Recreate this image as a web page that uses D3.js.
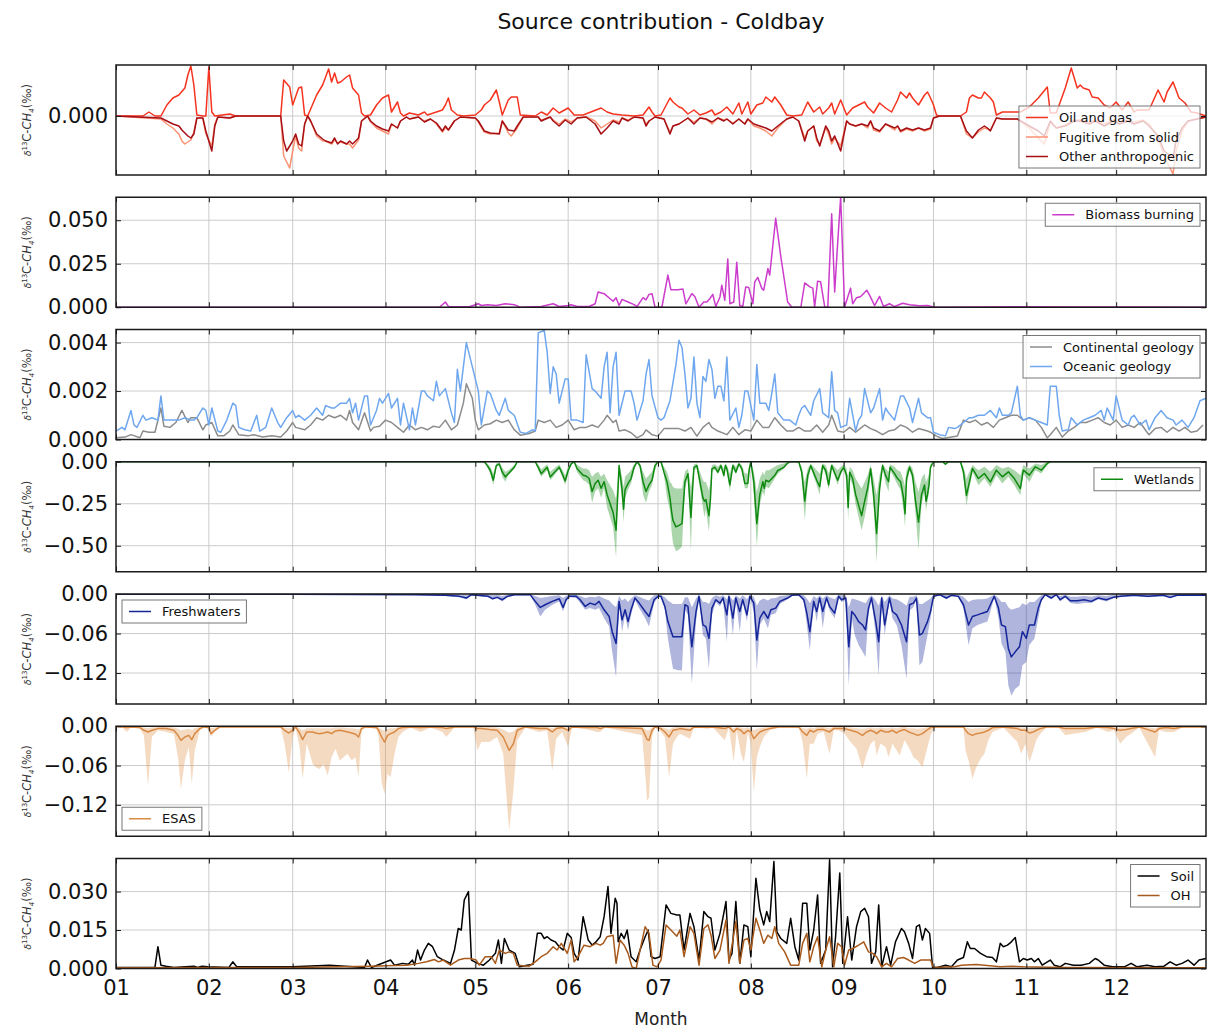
<!DOCTYPE html>
<html><head><meta charset="utf-8">
<script src="https://cdn.jsdelivr.net/npm/d3@7"></script>
<style>body{margin:0;background:#fff} svg{font-family:"DejaVu Sans",sans-serif}</style>
</head><body>
<svg id="chart" width="1208" height="1032"></svg>
<script>
// ---------------- DATA (day of year, value in per mil) ----------------
const monthLabels = ["01","02","03","04","05","06","07","08","09","10","11","12"];
const chartTitle = "Source contribution - Coldbay";

const oilGas = [[0,0],[9,0],[11,0.00008],[13,0],[15,0],[17,0.00022],[19,0.00036],[21,0.00042],[23,0.00056],[24,0.00082],[25,0.001],[26,0.00062],[27,0.00002],[29,0],[30,0],[31,0.00098],[32,0.00008],[33,0],[38,0.00004],[40,0],[55,0],[56,0.00072],[58,0.00058],[59,0.00022],[61,0.00056],[62,0.00058],[63,0.00002],[64,0],[67,0.00042],[69,0.00062],[70,0.00078],[71,0.00094],[72,0.00068],[73,0.00086],[74,0.00066],[75,0.00068],[77,0.00078],[78,0.00082],[79,0.00056],[81,0.00042],[82,0.00006],[83,0],[85,0.00002],[87,0.00022],[89,0.00036],[91,0.00042],[92,0.00008],[94,0.00028],[95,0.00006],[96,0],[98,0.00006],[101,0.00002],[103,0.00008],[104,0.00002],[106,0.00006],[109,0.00012],[110,0.00022],[111,0.00036],[112,0.00012],[114,0.00002],[116,0],[120,0.00002],[122,0.00012],[123,0.00022],[125,0.00032],[126,0.00042],[127,0.00052],[128,0.00028],[129,0.00002],[131,0.00032],[132,0.00038],[134,0.00038],[135,0.00002],[140,0],[142,0.00008],[144,0.00002],[146,0.00016],[148,0.00006],[151,0.00016],[153,0.00002],[156,0.00002],[162,0.00016],[164,0.00008],[166,0.00004],[169,0.00002],[173,0],[176,0.00002],[178,0.00018],[179,0.00008],[180,0],[182,0.00002],[185,0.00036],[186,0.00028],[188,0.00018],[189,0.00016],[191,0.00004],[193,0.00012],[195,0.00002],[197,0.00006],[199,0.00012],[200,0.00002],[202,0.00008],[204,0.00018],[206,0.00004],[208,0.00026],[209,0.00004],[211,0.00028],[212,0.00004],[214,0.00022],[216,0.00026],[217,0.00038],[219,0.00028],[220,0.00038],[222,0.00022],[224,0.00002],[226,0],[229,0.00002],[231,0.00028],[233,0.00008],[235,0.00018],[236,0.00004],[238,0.00016],[239,0.00026],[240,0.00004],[242,0.00032],[244,0.00002],[246,0.00016],[248,0.00022],[250,0.00028],[251,0.00018],[253,0.00006],[254,0.00016],[255,0.00026],[257,0.00016],[259,0.00008],[261,0.00032],[262,0.00048],[264,0.00036],[265,0.00046],[266,0.00036],[268,0.00022],[270,0.00042],[271,0.00048],[272,0.00036],[273,0.00022],[274,0.00002],[275,0],[282,0],[284,0.00008],[285,0.00036],[286,0.00042],[288,0.00036],[289,0.00036],[290,0.00048],[292,0.00036],[293,0.00028],[294,0.00002],[296,0.00008],[300,0.00008],[302,0.00008],[305,0.00018],[308,0.00036],[311,0.00058],[312,0.00006],[314,0.00006],[317,0.00056],[319,0.00096],[321,0.00056],[322,0.00062],[323,0.00056],[325,0.00052],[326,0.00038],[328,0.00036],[330,0.00022],[332,0.00016],[334,0.00028],[336,0.00012],[338,0.00028],[340,0.00008],[341,0.00012],[343,0.00012],[345,0.00012],[348,0.00052],[350,0.00028],[351,0.00048],[353,0.00068],[355,0.00036],[357,0.00026],[359,0.00008],[361,0.00006],[363,0.00002],[364,0]];

const fugitiveSolid = [[0,0],[15,-0.00006],[17,-0.00016],[19,-0.00024],[21,-0.00036],[22,-0.0005],[23,-0.00056],[25,-0.00048],[26,-0.00032],[27,-0.00004],[29,-0.00004],[30,-0.00036],[32,-0.0006],[33,-0.00016],[34,-0.00002],[38,-0.00004],[40,0],[55,0],[56,-0.0008],[58,-0.00104],[59,-0.0007],[60,-0.0004],[61,-0.00064],[62,-0.0007],[63,-0.00016],[64,0],[65,-0.0001],[67,-0.0004],[69,-0.0005],[70,-0.0005],[72,-0.00056],[73,-0.00048],[74,-0.00054],[75,-0.00052],[77,-0.00056],[78,-0.00056],[79,-0.00064],[81,-0.00048],[82,-0.0001],[84,0],[85,-0.00012],[87,-0.00024],[89,-0.0003],[91,-0.00036],[92,-0.00016],[94,-0.00024],[95,-0.0001],[97,-0.00002],[98,-0.00006],[101,-0.00002],[103,-0.0001],[105,-0.00006],[107,-0.00016],[109,-0.00032],[110,-0.00024],[111,-0.00028],[113,-0.0001],[115,-0.00002],[120,-0.00004],[121,-0.00012],[123,-0.00032],[125,-0.00036],[128,-0.00034],[129,-0.0001],[131,-0.00034],[132,-0.0004],[134,-0.00024],[136,-0.00002],[141,-0.00002],[142,-0.00008],[145,-0.00002],[146,-0.00008],[148,-0.00016],[150,-0.00006],[152,-0.00012],[154,-0.00004],[157,-0.00002],[160,-0.0001],[162,-0.00024],[164,-0.00016],[166,-0.00008],[168,-0.00012],[169,-0.00004],[171,-0.00008],[173,-0.00002],[176,-0.00004],[177,-0.00016],[178,-0.0001],[180,-0.00002],[183,-0.00006],[185,-0.00032],[186,-0.0002],[188,-0.00016],[189,-0.00012],[191,-0.00004],[193,-0.00012],[195,-0.00004],[197,-0.00006],[199,-0.00016],[201,-0.00004],[203,-0.00008],[204,-0.00006],[206,-0.00014],[208,-0.00006],[210,-0.00016],[211,-0.00006],[213,-0.0002],[215,-0.00024],[217,-0.0003],[219,-0.0004],[221,-0.00024],[224,-0.00006],[226,-0.00002],[228,-0.0001],[230,-0.00044],[231,-0.0003],[233,-0.0002],[234,-0.0005],[235,-0.00056],[237,-0.00024],[238,-0.00036],[239,-0.00056],[240,-0.00044],[242,-0.0006],[244,-0.0001],[245,-0.00016],[247,-0.0002],[249,-0.00016],[251,-0.00024],[252,-0.0001],[253,-0.00028],[255,-0.00032],[257,-0.00016],[260,-0.00028],[261,-0.0002],[262,-0.00032],[264,-0.00026],[266,-0.0003],[268,-0.00024],[270,-0.0003],[272,-0.00026],[273,-0.00004],[275,0],[282,0],[284,-0.00036],[286,-0.00044],[288,-0.00032],[290,-0.00024],[291,-0.00026],[292,-0.00028],[294,-0.00004],[296,-0.00006],[301,-0.00006],[305,-0.00024],[308,-0.00044],[310,-0.00056],[312,-0.00012],[314,-0.00024],[317,-0.00018],[320,-0.00008],[322,-0.00008],[325,-0.00012],[327,-0.00008],[330,-0.00016],[333,-0.00008],[335,-0.00012],[338,-0.00008],[340,-0.00012],[343,-0.00008],[345,-0.00016],[348,-0.00044],[350,-0.0008],[353,-0.00116],[354,-0.0007],[356,-0.0003],[358,-0.0001],[361,-0.00006],[364,-0.00002]];

const otherAnthro = [[0,0],[15,-0.00004],[17,-0.0001],[19,-0.00016],[21,-0.0002],[22,-0.00028],[24,-0.0004],[25,-0.00044],[26,-0.00036],[27,-0.00004],[29,-0.00004],[30,-0.0003],[32,-0.0007],[33,-0.0002],[34,-0.00002],[38,-0.00004],[40,0],[55,0],[56,-0.0005],[57,-0.0007],[59,-0.0005],[60,-0.00036],[61,-0.00056],[62,-0.0006],[63,-0.00016],[64,0],[65,-0.0001],[67,-0.00036],[69,-0.00046],[70,-0.0005],[72,-0.00054],[73,-0.00044],[74,-0.00056],[75,-0.0005],[77,-0.00056],[78,-0.0005],[79,-0.00056],[81,-0.00044],[82,-0.0001],[84,0],[85,-0.0001],[87,-0.0002],[89,-0.00026],[91,-0.0003],[92,-0.00016],[94,-0.00024],[95,-0.0001],[97,-0.00002],[98,-0.00006],[101,-0.00002],[103,-0.00012],[105,-0.00006],[107,-0.00014],[109,-0.0003],[110,-0.0002],[111,-0.00028],[113,-0.0001],[115,-0.00002],[120,-0.00004],[121,-0.0001],[123,-0.0003],[125,-0.00034],[128,-0.00036],[129,-0.0001],[131,-0.00028],[133,-0.0003],[134,-0.0002],[136,-0.00002],[141,-0.00002],[142,-0.0001],[145,-0.00002],[146,-0.0001],[148,-0.0002],[150,-0.00008],[152,-0.00016],[154,-0.00004],[157,-0.00002],[160,-0.00016],[162,-0.00036],[164,-0.00024],[166,-0.0001],[168,-0.00016],[169,-0.00004],[171,-0.0001],[173,-0.00002],[176,-0.00004],[177,-0.0002],[178,-0.0001],[180,-0.00002],[183,-0.00006],[185,-0.00036],[186,-0.0002],[188,-0.00016],[189,-0.00012],[191,-0.00004],[193,-0.00016],[195,-0.00004],[197,-0.00006],[199,-0.00012],[201,-0.00004],[203,-0.0001],[204,-0.00006],[206,-0.00016],[208,-0.00006],[210,-0.00016],[211,-0.00006],[213,-0.00016],[215,-0.0002],[217,-0.00024],[219,-0.0003],[221,-0.0002],[224,-0.00006],[226,-0.00002],[228,-0.0001],[230,-0.0005],[231,-0.0003],[233,-0.0002],[234,-0.00044],[235,-0.0006],[237,-0.0002],[238,-0.0003],[239,-0.0005],[240,-0.0004],[242,-0.0007],[244,-0.0001],[245,-0.00016],[247,-0.0002],[249,-0.00016],[251,-0.0002],[252,-0.0001],[253,-0.00024],[255,-0.0003],[257,-0.00016],[260,-0.00024],[261,-0.0002],[262,-0.0003],[264,-0.00024],[266,-0.00028],[268,-0.00024],[270,-0.00028],[272,-0.00024],[273,-0.00004],[275,0],[282,0],[284,-0.0003],[286,-0.00044],[288,-0.00028],[290,-0.0002],[291,-0.00024],[292,-0.0003],[294,-0.00004],[296,-0.00006],[301,-0.00006],[305,-0.0002],[308,-0.0003],[310,-0.0004],[312,-0.0001],[314,-0.00024],[317,-0.0002],[320,-0.0001],[322,-0.0001],[325,-0.00016],[327,-0.0001],[330,-0.0002],[333,-0.0001],[335,-0.00016],[338,-0.0001],[340,-0.00016],[343,-0.0001],[345,-0.0002],[348,-0.0004],[350,-0.0007],[353,-0.00084],[354,-0.0005],[356,-0.00024],[358,-0.0001],[361,-0.00006],[364,-0.00002]];

const biomassBurning = [[0,0],[108,0],[110,0.003],[111,0.0005],[118,0.0003],[121,0.002],[122,0.001],[124,0.0014],[127,0.001],[130,0.002],[133,0.0015],[135,0],[142,0.0004],[146,0.002],[148,0.0004],[151,0.001],[152,0.0014],[154,0.0004],[158,0.0004],[160,0.002],[161,0.0088],[163,0.0078],[165,0.0049],[166,0.0035],[167,0.0055],[168,0.001],[169,0.0045],[171,0.003],[173,0.0015],[174,0.0004],[176,0.0055],[177,0.0043],[178,0.0074],[179,0.0078],[180,0],[182.3,0],[184.3,0.0185],[185.3,0.0101],[187.7,0.0101],[189.3,0.0105],[190.3,0.002],[192.3,0.0078],[193.3,0.0062],[194.7,0],[196.3,0.003],[197.3,0.003],[198.3,0.0049],[199.3,0.0074],[200.3,0.0004],[201.7,0.0059],[202.3,0.0127],[203.3,0.004],[204.3,0.0277],[205,0.002],[206.3,0.003],[207.3,0.0258],[208.3,0.001],[209.3,0.0004],[210.3,0.0117],[211.3,0.0113],[212.7,0.002],[213.3,0.0146],[214.3,0.0172],[215.7,0.0107],[216.3,0.0098],[217.7,0.0222],[218.3,0.0185],[220.3,0.0511],[222,0.0293],[224.3,0.003],[225.7,0],[228.7,0],[230,0.014],[231.7,0.0117],[232.7,0.011],[233.3,0],[234.3,0.015],[235.3,0.0146],[236.7,0],[237.7,0],[239,0.0537],[240,0.0088],[241,0.037],[242,0.0634],[243.3,0],[245.3,0.011],[246,0.002],[247.3,0.0055],[248.7,0.0062],[250.7,0.0098],[251.7,0.0068],[253.3,0.001],[255,0.0062],[256.3,0.0004],[258.3,0.002],[260,0.0004],[262.7,0.0023],[265,0.0014],[268.3,0.0008],[271,0.001],[273.3,0],[290,0.0002],[300,0.0003],[320,0.0002],[340,0.0001],[364,0]];

const continentalGeology = [[0,0.00007],[3,0.0001],[5,0.0002],[8,0.00007],[9,0.00035],[11,0.0003],[13,0.0003],[15,0.0013],[16,0.00055],[18,0.0005],[20,0.0007],[22,0.0012],[24,0.0007],[25,0.0009],[27,0.0009],[29,0.0004],[30,0.0006],[32,0.0007],[34,0.00015],[36,0.00015],[38,0.00035],[39,0.0006],[41,0.0002],[44,0.00015],[46,0.0002],[49,0.0001],[52,0.00015],[55,0.0001],[57,0.00035],[59,0.0007],[60,0.0005],[63,0.0004],[65,0.0006],[67,0.0009],[69,0.0008],[71,0.001],[73,0.0009],[75,0.001],[77,0.0008],[78,0.0012],[79,0.0007],[81,0.0004],[83,0.0011],[85,0.00035],[86,0.0005],[88,0.00055],[90,0.0008],[92,0.0007],[94,0.0005],[96,0.0003],[98,0.0006],[100,0.0004],[102,0.0005],[104,0.0004],[106,0.00055],[108,0.0005],[110,0.0008],[112,0.0004],[114,0.0006],[116,0.0015],[117,0.0023],[119,0.0017],[120,0.0008],[121,0.0004],[123,0.0006],[125,0.00065],[127,0.0008],[129,0.0007],[131,0.0008],[133,0.0004],[135,0.00018],[138,0.00025],[140,0.00035],[141,0.0008],[143,0.0007],[145,0.0008],[147,0.0005],[149,0.0006],[151,0.0008],[153,0.0004],[155,0.0005],[157,0.0005],[159,0.0006],[161,0.0005],[163,0.0008],[164,0.001],[166,0.0007],[167,0.0008],[168,0.00035],[170,0.0004],[172,0.00028],[174,0.00007],[176,0.0002],[177,0.0004],[179,0.0002],[181,0.00014],[183,0.00045],[186,0.00045],[188,0.00045],[190,0.00035],[192,0.0005],[194,0.00014],[196,0.0005],[198,0.0007],[199,0.0005],[201,0.00035],[204,0.0002],[206,0.0005],[208,0.0002],[210,0.0004],[212,0.00035],[214,0.0008],[216,0.0005],[218,0.0005],[220,0.0009],[222,0.0006],[224,0.00035],[226,0.00035],[228,0.0005],[230,0.00035],[232,0.00035],[234,0.0006],[236,0.0003],[238,0.0006],[239,0.001],[241,0.00035],[243,0.0003],[245,0.0005],[247,0.0003],[249,0.0005],[250,0.0006],[252,0.00045],[254,0.00035],[256,0.0002],[258,0.00035],[260,0.0004],[262,0.0006],[264,0.0005],[266,0.0003],[268,0.00045],[271,0.00035],[272,0.0003],[274,0.00014],[276,0.00004],[279,0.0001],[281,0.00014],[283,0.0008],[285,0.0007],[287,0.0008],[289,0.0006],[291,0.0007],[293,0.0005],[295,0.0008],[297,0.0009],[299,0.001],[301,0.001],[303,0.0008],[305,0.0009],[307,0.0008],[309,0.0005],[311,0.00007],[312,0.0002],[314,0.0005],[316,0.0001],[318,0.00035],[320,0.0005],[322,0.0007],[324,0.0007],[326,0.0008],[328,0.0009],[330,0.0007],[332,0.0006],[334,0.0008],[336,0.0005],[338,0.0006],[340,0.0005],[342,0.0007],[344,0.00035],[345,0.0002],[347,0.00045],[349,0.0005],[351,0.0003],[353,0.0005],[355,0.00035],[357,0.0005],[359,0.0003],[361,0.00035],[363,0.0006]];

const oceanicGeology = [[0,0.00035],[2,0.0005],[3,0.0004],[5,0.0012],[6,0.0006],[7,0.0005],[9,0.001],[10,0.0008],[12,0.0009],[14,0.0008],[15,0.0018],[16,0.0008],[18,0.0008],[21,0.0008],[23,0.0009],[25,0.0008],[26,0.0008],[27,0.0009],[29,0.0013],[30,0.0012],[31,0.0006],[32,0.0013],[34,0.00035],[35,0.0003],[37,0.0008],[39,0.0015],[40,0.0014],[41,0.0005],[43,0.0004],[45,0.00035],[47,0.001],[48,0.00035],[50,0.0005],[52,0.0013],[54,0.0007],[55,0.0005],[57,0.0009],[59,0.0012],[60,0.0009],[61,0.001],[63,0.0008],[65,0.001],[67,0.0013],[69,0.001],[70,0.0014],[72,0.0013],[73,0.0013],[75,0.0015],[77,0.0015],[78,0.0017],[79,0.0011],[80,0.0015],[81,0.0008],[83,0.0018],[84,0.0018],[85,0.0006],[87,0.0012],[88,0.0017],[89,0.0015],[91,0.0019],[92,0.0013],[94,0.0017],[95,0.0006],[96,0.0015],[98,0.0004],[99,0.0013],[100,0.0006],[102,0.002],[103,0.002],[104,0.0018],[106,0.0016],[107,0.0024],[108,0.0018],[110,0.0021],[112,0.0011],[113,0.0007],[114,0.0029],[115,0.002],[117,0.004],[119,0.003],[121,0.002],[122,0.0006],[124,0.002],[125,0.0019],[127,0.0012],[128,0.001],[130,0.0017],[131,0.0012],[133,0.001],[135,0.0003],[137,0.00025],[139,0.0004],[140,0.00035],[141,0.0044],[143,0.0045],[144,0.0036],[145,0.0019],[146,0.003],[147,0.0027],[148,0.0015],[150,0.0025],[151,0.0025],[152,0.0008],[154,0.0008],[156,0.0007],[157,0.0035],[159,0.0021],[160,0.002],[162,0.0017],[163,0.003],[164,0.0036],[165,0.0011],[166,0.003],[167,0.0036],[168,0.001],[170,0.002],[171,0.002],[172,0.002],[173,0.0015],[174,0.0008],[176,0.0016],[177,0.0027],[178,0.0033],[179,0.0018],[181,0.0009],[182,0.0008],[183,0.0009],[185,0.0016],[187,0.0031],[188,0.0041],[189,0.0038],[190,0.0027],[191,0.0013],[192,0.0017],[193,0.0034],[194,0.0015],[195,0.0009],[196,0.0026],[197,0.0024],[198,0.0033],[199,0.0029],[200,0.0017],[201,0.0022],[202,0.0022],[203,0.0016],[204,0.0034],[205,0.0008],[207,0.0013],[208,0.0005],[209,0.001],[210,0.002],[211,0.002],[213,0.0008],[214,0.0031],[215,0.0015],[217,0.0015],[218,0.0012],[219,0.0019],[220,0.0027],[221,0.0011],[223,0.0008],[224,0.0008],[225,0.0008],[227,0.0006],[228,0.001],[229,0.0013],[230,0.0014],[232,0.001],[233,0.0016],[235,0.0021],[236,0.0011],[238,0.0009],[239,0.0028],[240,0.0012],[241,0.0011],[242,0.0005],[244,0.0006],[245,0.0017],[247,0.00035],[248,0.0008],[249,0.001],[250,0.0021],[252,0.0011],[253,0.0013],[255,0.0021],[256,0.0008],[257,0.0013],[258,0.0011],[260,0.0008],[262,0.0018],[263,0.0018],[265,0.0013],[266,0.0007],[268,0.0017],[269,0.0011],[271,0.0009],[272,0.0009],[273,0.0003],[275,0.0002],[277,0.00015],[278,0.0005],[280,0.00045],[281,0.0005],[283,0.0007],[285,0.0009],[286,0.0009],[288,0.001],[290,0.001],[292,0.0012],[294,0.0009],[295,0.0013],[296,0.001],[298,0.001],[299,0.0011],[301,0.0022],[302,0.001],[303,0.0008],[305,0.0009],[307,0.0008],[309,0.0007],[311,0.0006],[312,0.0022],[314,0.0022],[315,0.001],[316,0.00035],[318,0.0004],[319,0.0009],[321,0.0006],[323,0.0008],[325,0.0009],[327,0.001],[329,0.0012],[330,0.0008],[331,0.0013],[333,0.0008],[334,0.0018],[336,0.0008],[338,0.0006],[339,0.0009],[340,0.001],[342,0.0006],[344,0.0008],[345,0.0004],[347,0.0009],[349,0.0012],[351,0.0009],[353,0.0008],[354,0.0006],[356,0.0008],[358,0.0005],[360,0.0009],[362,0.0016],[364,0.0017]];

// [day, mean, lower bound, upper bound]
const wetlands = [[0,0,0,0],[123,0,0,0],[124,-0.023,-0.033,-0.01],[125,-0.052,-0.071,-0.03],[126,-0.11,-0.138,-0.07],[127,-0.023,-0.033,-0.01],[128,-0.013,-0.02,-0.005],[129,-0.062,-0.09,-0.035],[130,-0.09,-0.119,-0.06],[131,-0.071,-0.081,-0.05],[132,-0.052,-0.062,-0.035],[133,-0.033,-0.042,-0.02],[134,0,0,0],[140,0,0,0],[141,-0.033,-0.052,-0.015],[142,-0.071,-0.09,-0.045],[143,-0.052,-0.07,-0.03],[144,-0.033,-0.05,-0.015],[145,-0.09,-0.11,-0.06],[146,-0.071,-0.09,-0.045],[147,-0.052,-0.065,-0.03],[148,-0.033,-0.045,-0.015],[149,-0.071,-0.09,-0.045],[150,-0.115,-0.138,-0.08],[151,-0.052,-0.07,-0.03],[152,-0.013,-0.02,-0.005],[153,0,0,0],[154,-0.042,-0.062,-0.02],[156,-0.081,-0.11,-0.04],[157,-0.085,-0.119,-0.04],[158,-0.1,-0.138,-0.05],[159,-0.177,-0.244,-0.09],[160,-0.129,-0.177,-0.07],[161,-0.11,-0.158,-0.06],[162,-0.158,-0.215,-0.09],[163,-0.119,-0.158,-0.07],[164,-0.196,-0.273,-0.11],[166,-0.302,-0.388,-0.17],[167,-0.408,-0.571,-0.22],[167.5,-0.215,-0.273,-0.12],[168,-0.023,-0.062,-0.01],[169,-0.167,-0.235,-0.09],[169.5,-0.283,-0.36,-0.15],[170,-0.167,-0.215,-0.09],[171,-0.129,-0.167,-0.07],[172,-0.1,-0.129,-0.05],[173,-0.033,-0.052,-0.015],[174,0,-0.005,0],[175,-0.023,-0.042,-0.01],[176,-0.119,-0.196,-0.06],[177,-0.177,-0.244,-0.1],[178,-0.138,-0.177,-0.08],[179,-0.11,-0.138,-0.06],[180,-0.023,-0.052,-0.01],[181,0,0,0],[182,0,0,0],[183,-0.062,-0.081,-0.03],[184,-0.119,-0.215,-0.06],[185,-0.215,-0.292,-0.12],[185.5,-0.292,-0.408,-0.13],[186,-0.35,-0.485,-0.15],[187,-0.388,-0.533,-0.16],[188,-0.379,-0.523,-0.16],[189,-0.369,-0.504,-0.16],[190,-0.119,-0.158,-0.06],[191,-0.071,-0.09,-0.04],[192,-0.331,-0.533,-0.15],[192.5,-0.177,-0.215,-0.09],[193,-0.033,-0.05,-0.015],[194,-0.023,-0.04,-0.01],[195,-0.119,-0.158,-0.06],[196,-0.215,-0.273,-0.11],[196.5,-0.235,-0.331,-0.12],[197,-0.225,-0.283,-0.12],[198,-0.321,-0.417,-0.17],[198.5,-0.225,-0.283,-0.12],[199,-0.042,-0.062,-0.02],[200,-0.033,-0.045,-0.015],[201,-0.062,-0.075,-0.03],[202,-0.023,-0.035,-0.01],[203,-0.081,-0.1,-0.04],[203.5,-0.023,-0.035,-0.01],[204,-0.042,-0.055,-0.02],[205,-0.138,-0.177,-0.07],[206,-0.023,-0.035,-0.01],[207,-0.062,-0.075,-0.03],[208,-0.013,-0.02,-0.005],[209,-0.042,-0.055,-0.02],[210,-0.129,-0.158,-0.07],[211,-0.129,-0.158,-0.07],[211.5,-0.042,-0.055,-0.02],[212,0,0,0],[213,-0.119,-0.196,-0.06],[214,-0.369,-0.504,-0.18],[215,-0.196,-0.254,-0.1],[216,-0.119,-0.177,-0.06],[216.5,-0.158,-0.206,-0.08],[217,-0.11,-0.148,-0.05],[218,-0.119,-0.158,-0.05],[219,-0.1,-0.129,-0.04],[220,-0.081,-0.1,-0.03],[221,-0.052,-0.071,-0.02],[223,-0.033,-0.042,-0.01],[224,-0.013,-0.02,-0.005],[225,0,0,0],[228,0,0,0],[229,-0.062,-0.09,-0.03],[230,-0.235,-0.35,-0.12],[231,-0.081,-0.129,-0.04],[232,-0.023,-0.035,-0.01],[234,-0.11,-0.138,-0.05],[235,-0.148,-0.196,-0.07],[236,-0.023,-0.035,-0.01],[237,-0.052,-0.081,-0.02],[238,-0.138,-0.167,-0.07],[239,-0.023,-0.035,-0.01],[241,-0.11,-0.138,-0.05],[242,-0.062,-0.08,-0.03],[243,-0.033,-0.045,-0.015],[244,-0.081,-0.119,-0.04],[244.5,-0.273,-0.35,-0.13],[245,-0.062,-0.1,-0.03],[246,-0.1,-0.138,-0.05],[247,-0.196,-0.254,-0.1],[249,-0.321,-0.408,-0.16],[250,-0.235,-0.331,-0.12],[251,-0.158,-0.235,-0.08],[252,-0.042,-0.081,-0.02],[253,-0.196,-0.263,-0.1],[254,-0.427,-0.6,-0.2],[255,-0.158,-0.2,-0.08],[256,-0.023,-0.035,-0.01],[257,-0.081,-0.129,-0.04],[258,-0.119,-0.177,-0.06],[258.5,-0.033,-0.05,-0.015],[260,-0.071,-0.1,-0.03],[261,-0.1,-0.138,-0.05],[262,-0.119,-0.167,-0.06],[263,-0.215,-0.292,-0.11],[263.5,-0.31,-0.388,-0.15],[264,-0.1,-0.138,-0.05],[265,-0.033,-0.052,-0.015],[266,-0.081,-0.11,-0.04],[267,-0.235,-0.31,-0.12],[268,-0.36,-0.523,-0.18],[269,-0.196,-0.254,-0.1],[270,-0.138,-0.177,-0.07],[270.5,-0.235,-0.292,-0.12],[271,-0.196,-0.235,-0.1],[271.5,-0.138,-0.177,-0.07],[272,-0.033,-0.042,-0.015],[273,0,0,0],[276,0,0,0],[277,-0.015,-0.02,-0.005],[278,0,0,0],[282,0,0,0],[283,-0.06,-0.09,-0.03],[284,-0.2,-0.26,-0.1],[285,-0.12,-0.16,-0.06],[286,-0.04,-0.06,-0.02],[288,-0.1,-0.14,-0.05],[290,-0.07,-0.1,-0.03],[292,-0.12,-0.15,-0.06],[294,-0.05,-0.08,-0.02],[296,-0.09,-0.13,-0.04],[298,-0.06,-0.09,-0.03],[300,-0.1,-0.14,-0.05],[302,-0.16,-0.2,-0.08],[303,-0.05,-0.07,-0.02],[305,-0.08,-0.12,-0.04],[307,-0.03,-0.05,-0.01],[309,-0.05,-0.07,-0.02],[311,-0.01,-0.02,0],[312,0,0,0],[364,0,0,0]];

const freshwaters = [[0,-0.0005,-0.001,0],[60,-0.0005,-0.001,0],[100,-0.001,-0.0015,0],[110,-0.002,-0.003,0],[114.7,-0.0036,-0.005,-0.001],[117,-0.0061,-0.008,-0.002],[118.7,-0.001,-0.002,0],[124.3,-0.0036,-0.005,-0.001],[125.7,-0.0071,-0.0087,-0.002],[127.3,-0.0051,-0.006,-0.001],[129,-0.0087,-0.0112,-0.003],[130.7,-0.0036,-0.005,-0.001],[133,-0.001,-0.002,0],[138.3,-0.001,-0.002,0],[140,-0.0112,-0.0163,-0.003],[141.7,-0.0204,-0.0342,-0.006],[143.3,-0.0163,-0.024,-0.005],[145.7,-0.0112,-0.0163,-0.003],[148,-0.0071,-0.0112,-0.002],[149.3,-0.0204,-0.0266,-0.006],[150.3,-0.0087,-0.012,-0.003],[151.3,-0.0036,-0.005,-0.001],[153.7,-0.0036,-0.006,-0.001],[155,-0.0087,-0.0138,-0.003],[156.7,-0.0189,-0.024,-0.006],[158.3,-0.0138,-0.0214,-0.004],[160,-0.0163,-0.024,-0.005],[161.3,-0.0112,-0.0214,-0.003],[163,-0.024,-0.0368,-0.007],[164.7,-0.0342,-0.0495,-0.01],[165.7,-0.0572,-0.0878,-0.015],[167,-0.0751,-0.1261,-0.02],[168,-0.0112,-0.0163,-0.003],[169,-0.0393,-0.0572,-0.01],[170,-0.024,-0.0317,-0.007],[171,-0.0419,-0.0546,-0.012],[172,-0.024,-0.0317,-0.007],[173.3,-0.0061,-0.009,-0.002],[174.7,-0.0138,-0.0214,-0.004],[176.7,-0.0266,-0.0368,-0.008],[178,-0.0342,-0.0495,-0.01],[179.7,-0.0087,-0.0138,-0.002],[181,-0.0036,-0.005,-0.001],[182,-0.0036,-0.005,-0.001],[183.3,-0.0189,-0.024,-0.005],[184.3,-0.0419,-0.0674,-0.01],[186,-0.0648,-0.1134,-0.015],[187.7,-0.0648,-0.1159,-0.015],[189,-0.0648,-0.1159,-0.015],[190,-0.0163,-0.024,-0.005],[191,-0.0189,-0.0317,-0.005],[192.3,-0.0802,-0.1363,-0.02],[193.7,-0.0266,-0.0419,-0.007],[194.7,-0.0036,-0.005,-0.001],[196,-0.047,-0.0623,-0.012],[197,-0.0495,-0.0674,-0.012],[198,-0.0674,-0.1134,-0.015],[199,-0.0214,-0.0317,-0.006],[200.3,-0.0087,-0.012,-0.002],[201.7,-0.0138,-0.0189,-0.004],[202.7,-0.0061,-0.009,-0.002],[204,-0.0317,-0.0725,-0.008],[204.7,-0.0036,-0.006,-0.001],[206,-0.0368,-0.0623,-0.01],[207,-0.0061,-0.009,-0.002],[208.3,-0.0266,-0.0572,-0.007],[209.3,-0.0087,-0.012,-0.002],[210.7,-0.0317,-0.0419,-0.008],[211.7,-0.0036,-0.005,-0.001],[213,-0.0138,-0.0266,-0.004],[214,-0.07,-0.1159,-0.018],[215,-0.0368,-0.047,-0.01],[216.3,-0.0266,-0.0368,-0.007],[217.7,-0.0368,-0.0521,-0.01],[218.7,-0.024,-0.0317,-0.007],[220.3,-0.0214,-0.0291,-0.006],[221.7,-0.0112,-0.015,-0.003],[224.3,-0.0061,-0.008,-0.002],[225.7,-0.002,-0.003,0],[228,-0.001,-0.002,0],[229.7,-0.0087,-0.012,-0.002],[230.7,-0.0291,-0.047,-0.007],[231.7,-0.0572,-0.0853,-0.014],[233,-0.0112,-0.015,-0.003],[234,-0.0266,-0.0419,-0.007],[235,-0.0061,-0.009,-0.002],[236,-0.0266,-0.0521,-0.007],[237.3,-0.0061,-0.009,-0.002],[238.3,-0.0189,-0.025,-0.005],[240,-0.0291,-0.0368,-0.008],[241.3,-0.0036,-0.006,-0.001],[242.3,-0.0087,-0.012,-0.002],[243.7,-0.0061,-0.009,-0.002],[244.7,-0.0802,-0.1389,-0.02],[245.7,-0.0266,-0.0368,-0.007],[246.7,-0.0317,-0.0623,-0.008],[248,-0.0419,-0.0776,-0.01],[249.3,-0.047,-0.0878,-0.012],[250.3,-0.0546,-0.0955,-0.014],[251.3,-0.0214,-0.03,-0.006],[252.3,-0.0061,-0.009,-0.002],[253.7,-0.0419,-0.0623,-0.01],[254.7,-0.0725,-0.1236,-0.018],[255.7,-0.0061,-0.009,-0.002],[256.7,-0.047,-0.0623,-0.012],[258.3,-0.0061,-0.009,-0.002],[259.3,-0.0266,-0.0368,-0.007],[260.7,-0.0317,-0.047,-0.008],[262.3,-0.047,-0.0776,-0.012],[264,-0.0725,-0.1287,-0.018],[265,-0.0163,-0.025,-0.004],[266.3,-0.0138,-0.02,-0.004],[267.3,-0.0061,-0.009,-0.002],[268.3,-0.0623,-0.1082,-0.015],[269.3,-0.0597,-0.1031,-0.015],[271,-0.0419,-0.0623,-0.01],[272,-0.0266,-0.0368,-0.007],[273,-0.0036,-0.005,-0.001],[275,-0.001,-0.002,0],[277.3,-0.0061,-0.008,-0.001],[279,-0.002,-0.003,0],[281.3,-0.0036,-0.005,-0.001],[283,-0.0163,-0.0214,-0.004],[284.7,-0.047,-0.0776,-0.012],[286,-0.0342,-0.0521,-0.009],[287.7,-0.0317,-0.047,-0.008],[289.3,-0.0291,-0.0444,-0.008],[291,-0.0266,-0.0419,-0.007],[292,-0.0163,-0.0266,-0.004],[293.3,-0.0036,-0.005,-0.001],[294.7,-0.0214,-0.0368,-0.006],[295.7,-0.047,-0.0751,-0.012],[297,-0.0495,-0.0878,-0.012],[298,-0.0827,-0.1389,-0.02],[299,-0.0955,-0.1542,-0.024],[300.3,-0.0878,-0.144,-0.022],[301.7,-0.0802,-0.1389,-0.02],[302.7,-0.0572,-0.1082,-0.014],[304,-0.0674,-0.1031,-0.017],[305,-0.047,-0.0776,-0.012],[306.7,-0.047,-0.0674,-0.012],[308,-0.0214,-0.0368,-0.006],[309,-0.0087,-0.012,-0.002],[310.3,-0.001,-0.002,0],[312.3,-0.0061,-0.008,-0.002],[314,-0.001,-0.002,0],[315.3,-0.0087,-0.0112,-0.003],[317,-0.0036,-0.005,-0.001],[318.7,-0.0102,-0.0138,-0.004],[321,-0.0102,-0.0153,-0.004],[323.3,-0.0087,-0.0138,-0.003],[325.7,-0.0112,-0.0138,-0.004],[328,-0.0061,-0.008,-0.002],[330.7,-0.0087,-0.0112,-0.003],[333,-0.0051,-0.007,-0.001],[335.3,-0.0036,-0.005,-0.001],[340,-0.002,-0.003,0],[344.7,-0.0036,-0.005,-0.001],[349.7,-0.002,-0.003,0],[352,-0.0051,-0.007,-0.001],[354.3,-0.002,-0.003,0],[359,-0.002,-0.003,0],[364,-0.002,-0.003,0]];

const esas = [[0,0,0,0],[2,-0.001,-0.002,0],[3.7,-0.002,-0.0087,0],[5,-0.001,-0.002,0],[8,-0.002,-0.004,0],[9.3,-0.0062,-0.0139,-0.002],[10.7,-0.0087,-0.0908,-0.003],[12,-0.0062,-0.0164,-0.002],[14,-0.0036,-0.006,-0.001],[16.7,-0.0036,-0.0087,-0.001],[19.3,-0.0062,-0.0113,-0.002],[20.7,-0.0139,-0.0472,-0.004],[21.7,-0.0215,-0.0959,-0.006],[23,-0.0164,-0.0523,-0.005],[24.3,-0.0139,-0.0318,-0.004],[25.3,-0.0205,-0.0882,-0.006],[26.3,-0.0113,-0.0369,-0.003],[28,-0.0036,-0.006,-0.001],[29.3,-0.001,-0.002,0],[31,-0.002,-0.004,0],[31.7,-0.0113,-0.0164,-0.003],[33,-0.0062,-0.008,-0.002],[34.7,-0.001,-0.002,0],[55,-0.001,-0.002,0],[56.3,-0.0062,-0.0267,-0.002],[57.7,-0.0103,-0.0703,-0.003],[59,-0.0062,-0.0164,-0.002],[60,-0.001,-0.003,0],[61.3,-0.0103,-0.0318,-0.003],[62.3,-0.0205,-0.0805,-0.006],[63.7,-0.0087,-0.0267,-0.003],[65.7,-0.0087,-0.0575,-0.003],[66.7,-0.0103,-0.0626,-0.003],[68,-0.0113,-0.0652,-0.003],[69.3,-0.0103,-0.0575,-0.003],[70.7,-0.0087,-0.0754,-0.003],[72,-0.0113,-0.0472,-0.003],[73.3,-0.0072,-0.0344,-0.002],[74.7,-0.0062,-0.0523,-0.002],[76,-0.0072,-0.0472,-0.002],[77.3,-0.0087,-0.0421,-0.003],[78.7,-0.0103,-0.0523,-0.003],[80,-0.0123,-0.0472,-0.004],[81,-0.0164,-0.078,-0.005],[82,-0.0036,-0.006,-0.001],[83.3,-0.001,-0.002,0],[87,-0.002,-0.004,0],[87.7,-0.0062,-0.0164,-0.002],[88.7,-0.0164,-0.0857,-0.005],[89.7,-0.0241,-0.1036,-0.007],[90.7,-0.0139,-0.0728,-0.004],[91.7,-0.0113,-0.078,-0.003],[93,-0.0087,-0.0421,-0.003],[94.3,-0.0036,-0.0164,-0.001],[95.7,-0.002,-0.0087,0],[98.3,-0.001,-0.002,0],[101.7,-0.002,-0.0087,0],[105,-0.001,-0.002,0],[109,-0.002,-0.0087,0],[110.3,-0.0036,-0.0164,-0.001],[113,-0.001,-0.002,0],[119.3,-0.001,-0.002,0],[120.7,-0.0036,-0.0369,-0.001],[122,-0.0036,-0.0241,-0.001],[124.7,-0.0051,-0.0241,-0.001],[127.3,-0.0062,-0.0164,-0.002],[129.3,-0.0164,-0.0421,-0.005],[131.3,-0.0369,-0.16,-0.01],[132.7,-0.0267,-0.0985,-0.008],[134,-0.0062,-0.0215,-0.002],[136.7,-0.001,-0.002,0],[141.3,-0.0036,-0.0087,-0.001],[144,-0.0036,-0.006,-0.001],[145.7,-0.0087,-0.0678,-0.003],[147,-0.0036,-0.019,-0.001],[149,-0.002,-0.0087,0],[151,-0.0062,-0.0318,-0.002],[152.3,-0.001,-0.002,0],[156.3,-0.002,-0.004,0],[160.7,-0.002,-0.0087,0],[161.7,-0.0036,-0.0087,-0.001],[163.3,-0.001,-0.002,0],[175.7,-0.0036,-0.0139,-0.001],[177,-0.0164,-0.0882,-0.005],[177.3,-0.02,-0.1139,-0.006],[178,-0.0215,-0.1088,-0.006],[179,-0.0062,-0.0164,-0.002],[180,-0.001,-0.002,0],[182,-0.0036,-0.0087,-0.001],[183.3,-0.0087,-0.0164,-0.003],[184.7,-0.0164,-0.078,-0.005],[186,-0.0062,-0.0267,-0.002],[187.3,-0.0051,-0.0164,-0.001],[188.3,-0.0036,-0.0113,-0.001],[191.7,-0.0062,-0.019,-0.002],[193,-0.001,-0.002,0],[197.7,-0.002,-0.003,0],[199.3,-0.001,-0.002,0],[203.3,-0.0036,-0.0215,-0.001],[204.7,-0.001,-0.002,0],[206.3,-0.0087,-0.0549,-0.003],[207.3,-0.0036,-0.006,-0.001],[208.7,-0.0062,-0.0421,-0.002],[209.7,-0.0113,-0.0549,-0.003],[211,-0.0062,-0.01,-0.002],[212,-0.0087,-0.0267,-0.003],[213,-0.019,-0.1011,-0.006],[214,-0.0139,-0.0472,-0.004],[215,-0.0087,-0.0318,-0.003],[216.3,-0.0062,-0.0164,-0.002],[218.3,-0.0036,-0.006,-0.001],[221.3,-0.001,-0.002,0],[228,-0.001,-0.002,0],[229.3,-0.0087,-0.0241,-0.003],[230.7,-0.0139,-0.0805,-0.004],[231.7,-0.0062,-0.0267,-0.002],[233,-0.0087,-0.0267,-0.003],[234.3,-0.0051,-0.0113,-0.001],[236.3,-0.0051,-0.008,-0.001],[238.3,-0.0087,-0.0421,-0.003],[239.7,-0.0036,-0.006,-0.001],[241.3,-0.0036,-0.006,-0.001],[243.3,-0.0036,-0.0113,-0.001],[245.3,-0.0062,-0.0241,-0.002],[247.3,-0.0087,-0.0344,-0.003],[249.3,-0.0139,-0.0652,-0.004],[250.7,-0.0087,-0.0421,-0.003],[252,-0.0062,-0.0267,-0.002],[253.3,-0.0087,-0.0215,-0.003],[254,-0.0113,-0.0446,-0.003],[255.3,-0.0062,-0.0267,-0.002],[257,-0.0087,-0.0318,-0.003],[258,-0.0087,-0.0472,-0.003],[259.3,-0.0062,-0.0267,-0.002],[260.7,-0.0103,-0.0369,-0.003],[261.7,-0.0072,-0.0446,-0.002],[263.3,-0.0051,-0.0215,-0.001],[264.7,-0.0087,-0.0318,-0.003],[266.3,-0.0113,-0.0472,-0.003],[267.7,-0.0139,-0.0523,-0.004],[269.3,-0.0113,-0.0626,-0.003],[270.7,-0.0062,-0.0369,-0.002],[272,-0.002,-0.0139,0],[273.3,-0.001,-0.002,0],[283,-0.001,-0.002,0],[283.7,-0.0062,-0.0369,-0.002],[284.7,-0.0113,-0.0523,-0.003],[286,-0.0139,-0.0805,-0.004],[287.3,-0.0113,-0.0626,-0.003],[288.7,-0.0103,-0.0498,-0.003],[290,-0.0087,-0.0421,-0.003],[291.3,-0.0062,-0.0215,-0.002],[292.7,-0.002,-0.0087,0],[296.3,-0.001,-0.002,0],[301,-0.0036,-0.0241,-0.001],[302.3,-0.0062,-0.0421,-0.002],[303.7,-0.0062,-0.0267,-0.002],[305,-0.0103,-0.0549,-0.003],[306.3,-0.0087,-0.0369,-0.003],[307.3,-0.0062,-0.0215,-0.002],[308.7,-0.0036,-0.0113,-0.001],[310.7,-0.001,-0.002,0],[314.7,-0.001,-0.002,0],[317,-0.0036,-0.0139,-0.001],[319.7,-0.0036,-0.0113,-0.001],[323.7,-0.0036,-0.0087,-0.001],[327.7,-0.001,-0.002,0],[331.3,-0.002,-0.0087,0],[333.3,-0.0036,-0.0062,-0.001],[335.3,-0.0062,-0.0267,-0.002],[337.3,-0.0051,-0.0164,-0.001],[339,-0.0036,-0.0113,-0.001],[341.7,-0.001,-0.002,0],[347,-0.0087,-0.0472,-0.003],[348.3,-0.0036,-0.006,-0.001],[350.7,-0.002,-0.0087,0],[353.3,-0.0036,-0.0087,-0.001],[356,-0.001,-0.002,0],[364,-0.001,-0.002,0]];

const soil = [[0,0.0004],[13,0.0004],[14,0.0085],[15,0.0013],[16.7,0.0009],[19.3,0.0004],[26,0.0009],[27.3,0.0004],[28.7,0.0009],[30.7,0.00065],[37.7,0.0004],[39,0.0026],[40.3,0.00065],[59,0.00065],[71.3,0.0013],[83,0.0004],[84,0.0033],[85.3,0.0004],[91.7,0.0033],[93,0.0013],[95.7,0.002],[97.7,0.0017],[99,0.0033],[99.7,0.0013],[100.7,0.0072],[101.7,0.0033],[103,0.0072],[104.3,0.0098],[105.7,0.0085],[107.3,0.0046],[109.3,0.0033],[111.7,0.002],[113,0.007],[114.3,0.0156],[115.3,0.015],[116.3,0.0267],[117.7,0.03],[118.7,0.0033],[120.7,0.002],[122.7,0.0013],[124.7,0.0033],[126.7,0.0059],[127.7,0.0111],[128.7,0.002],[129.7,0.0117],[131.3,0.0072],[133.3,0.0059],[134.7,0.00065],[137.3,0.0013],[139.3,0.0017],[140.7,0.0137],[142,0.0137],[143,0.0117],[144,0.0124],[145.3,0.0111],[146.7,0.0104],[148,0.0085],[149.3,0.0072],[150.7,0.0137],[152,0.0121],[153,0.0059],[154.3,0.0033],[156,0.0202],[157.7,0.0111],[159,0.0091],[160.3,0.0104],[161.7,0.0124],[163,0.0202],[164.3,0.032],[165.3,0.0137],[166.7,0.0274],[167.3,0.0254],[167.7,0.0104],[168.7,0.0137],[169.7,0.0117],[170.7,0.015],[172,0.0046],[173.7,0.0026],[175,0.0072],[176.7,0.0124],[177.7,0.015],[178.7,0.0046],[180,0.0039],[181.7,0.0046],[183.7,0.0248],[185.3,0.0215],[187.3,0.0209],[188.3,0.0209],[189.7,0.0072],[191.7,0.0215],[193,0.0163],[194.7,0.0033],[196.3,0.0222],[197.7,0.0202],[198.7,0.0196],[200,0.0072],[201.7,0.0137],[203.7,0.0261],[204.7,0.0033],[205.7,0.0059],[207,0.0261],[208.3,0.002],[209.7,0.017],[211,0.0163],[212,0.0046],[213.7,0.0352],[215,0.0228],[216.3,0.017],[217.3,0.0222],[218.3,0.0183],[219.7,0.0417],[220.7,0.0143],[222,0.0117],[224,0.0098],[225.3,0.0196],[226.7,0.0085],[228,0.0033],[229.3,0.0254],[230.7,0.0254],[231.7,0.0072],[233,0.015],[234.3,0.0287],[235.3,0.002],[237,0.0072],[238.3,0.0424],[239.3,0.00065],[240.3,0.0124],[241.7,0.0372],[242.7,0.002],[244.3,0.0202],[245.7,0.0033],[247.3,0.0163],[248.7,0.0222],[250,0.0235],[251.3,0.0202],[252.3,0.002],[253.7,0.0065],[254.7,0.0248],[255.7,0.00065],[257.3,0.0085],[258.7,0.0013],[260.3,0.0104],[262.3,0.0156],[263.3,0.0143],[264.7,0.0098],[266,0.0039],[267.3,0.0163],[268.3,0.017],[269.3,0.0111],[270.3,0.0156],[271.7,0.0137],[272.7,0.0004],[274.3,0.0004],[277,0.0013],[279,0.00065],[281,0.0033],[283,0.0043],[284.3,0.0104],[285.3,0.0078],[286.7,0.0078],[288.7,0.0059],[290.7,0.0046],[292.7,0.0043],[294,0.0026],[295.3,0.0098],[296.3,0.0085],[297.7,0.0091],[299,0.0104],[300.3,0.0121],[301.7,0.0026],[303,0.0039],[304.3,0.0033],[305.7,0.0039],[306.7,0.0026],[308,0.0039],[309.3,0.0013],[312,0.0033],[313.3,0.0013],[315.3,0.00065],[317,0.002],[319.7,0.0013],[322.3,0.0013],[325,0.002],[327,0.0039],[328,0.0033],[330,0.0013],[332.7,0.00065],[336.7,0.00065],[339,0.002],[341,0.00065],[344.3,0.0013],[347,0.00065],[350,0.0009],[352,0.0026],[354,0.0013],[356,0.002],[358,0.0033],[360,0.0013],[361.7,0.0033],[364,0.0039]];

const oh = [[0,0.0003],[60,0.0004],[70,0.0006],[85,0.0009],[93,0.0012],[97,0.0013],[101,0.002],[103.7,0.0026],[106.3,0.0035],[107.7,0.0026],[109.3,0.0033],[111.7,0.0013],[114.3,0.0033],[116.3,0.0039],[118.3,0.0039],[120.3,0.0033],[121.3,0.0013],[123.3,0.0046],[125.3,0.0046],[126.7,0.002],[128,0.0072],[130,0.0059],[131.3,0.0065],[132.7,0.0059],[134,0.0013],[138,0.0009],[140,0.0026],[142,0.0046],[144,0.0059],[146,0.0085],[147.3,0.0072],[148.7,0.0098],[150.7,0.0059],[152,0.0111],[153,0.0026],[154.3,0.0046],[156.3,0.0091],[158.3,0.0085],[160.3,0.0098],[161.7,0.0091],[162.7,0.0098],[164,0.0124],[166,0.013],[167,0.002],[168.3,0.0111],[169.7,0.0091],[171,0.0059],[172.3,0.00065],[173.7,0],[175,0.0072],[176.7,0.0163],[178,0.0137],[179.3,0.0013],[180.7,0.00065],[182,0.0033],[183.7,0.017],[185.3,0.015],[187.3,0.0126],[188.3,0.015],[189.7,0.0046],[191.7,0.0163],[193,0.0137],[194.7,0.0013],[196.3,0.0156],[197.7,0.017],[198.7,0.013],[200,0.0039],[201.7,0.0072],[203.7,0.0189],[204.7,0.002],[206,0.0111],[207,0.0183],[208.3,0.002],[209.7,0.0111],[211,0.0117],[212,0.0072],[213.7,0.0196],[215,0.015],[216.3,0.0098],[217.7,0.013],[219,0.0117],[220,0.0163],[221.3,0.0098],[223.3,0.0065],[225.3,0.0013],[228,0.0013],[229.3,0.0098],[230.7,0.0137],[231.7,0.0026],[233,0.0085],[234.3,0.0124],[235.7,0.00065],[237,0.0072],[238.3,0.0124],[239.7,0.00065],[241,0.0098],[242.3,0.0085],[243.3,0.0013],[244.7,0.0072],[246,0.0078],[248,0.0091],[249.7,0.0104],[251.3,0.0065],[252.7,0.0059],[254,0.0046],[255.7,0.00065],[257.3,0.002],[259,0.00065],[261,0.0039],[263,0.0043],[264.7,0.0033],[266.7,0.002],[268.7,0.0033],[270.7,0.0033],[272,0.0033],[273,0.0004],[280,0.00065],[282.3,0.0013],[287.3,0.0016],[292.7,0.001],[295.3,0.00065],[299,0.0009],[303,0.00065],[316,0.0004],[364,0.0003]];

// ---------------- DRAWING ----------------
const svg = d3.select("#chart");
const X0 = 116, X1 = 1206, PH = 110;
const panelTops = [65, 197.25, 329.5, 461.75, 594, 726.25, 858.5];
const T0 = Date.UTC(2015, 0, 1);
const toDate = d => new Date(T0 + d * 864e5);
const x = d3.scaleUtc().domain([toDate(0), toDate(364)]).range([X0, X1]);
const monthStarts = d3.utcMonth.range(toDate(0), toDate(365));

const panels = [
  {domain:[-0.00118,0.00102], ticks:[0], fmt:".3f",
   lines:[{data:oilGas,color:"#f5331f",name:"Oil and gas"},{data:fugitiveSolid,color:"#fc9272",name:"Fugitive from solid"},{data:otherAnthro,color:"#a50f15",name:"Other anthropogenic"}],
   legend:{side:"right", top:106}},
  {domain:[0,0.0632], ticks:[0,0.025,0.05], fmt:".3f",
   lines:[{data:biomassBurning,color:"#cc3ccc",name:"Biomass burning"}], legend:{side:"right", top:"top"}},
  {domain:[0,0.00454], ticks:[0,0.002,0.004], fmt:".3f",
   lines:[{data:continentalGeology,color:"#8c8c8c",name:"Continental geology"},{data:oceanicGeology,color:"#6fa7ef",name:"Oceanic geology"}], legend:{side:"right", top:"top"}},
  {domain:[-0.655,0], ticks:[0,-0.25,-0.5], fmt:".2f",
   bands:[{data:wetlands,color:"#0f8a10",fill:"#0f8a10",name:"Wetlands"}], legend:{side:"right", top:"top"}},
  {domain:[-0.167,0], ticks:[0,-0.06,-0.12], fmt:".2f",
   bands:[{data:freshwaters,color:"#15259a",fill:"#1a2b9c",name:"Freshwaters"}], legend:{side:"left", top:"top"}},
  {domain:[-0.168,0], ticks:[0,-0.06,-0.12], fmt:".2f",
   bands:[{data:esas,color:"#d98a45",fill:"#e3964f",name:"ESAS"}], legend:{side:"left", top:"bottom"}},
  {domain:[0,0.0429], ticks:[0,0.015,0.03], fmt:".3f",
   lines:[{data:soil,color:"#000000",name:"Soil"},{data:oh,color:"#a85a1c",name:"OH"}], legend:{side:"right", top:"top"}}
];

svg.append("text").attr("x", (X0+X1)/2).attr("y", 29).attr("text-anchor","middle")
  .attr("font-size", 22).attr("fill","#111").text(chartTitle);

panels.forEach((p, i) => {
  const top = panelTops[i], bottom = top + PH;
  const y = d3.scaleLinear().domain(p.domain).range([bottom, top]);
  const g = svg.append("g");
  const clipId = "clip" + i;
  g.append("clipPath").attr("id", clipId).append("rect")
    .attr("x", X0).attr("y", top).attr("width", X1 - X0).attr("height", PH);

  // grid
  g.selectAll(".vg").data(monthStarts.slice(1)).enter().append("line")
    .attr("x1", d => x(d)).attr("x2", d => x(d)).attr("y1", top).attr("y2", bottom)
    .attr("stroke", "#cccccc").attr("stroke-width", 1);
  g.selectAll(".hg").data(p.ticks).enter().append("line")
    .attr("x1", X0).attr("x2", X1).attr("y1", d => y(d)).attr("y2", d => y(d))
    .attr("stroke", "#cccccc").attr("stroke-width", 1);

  const plot = g.append("g").attr("clip-path", `url(#${clipId})`);
  (p.bands || []).forEach(s => {
    plot.append("path").datum(s.data)
      .attr("d", d3.area().x(d => x(toDate(d[0]))).y0(d => y(d[2])).y1(d => y(d[3])))
      .attr("fill", s.fill).attr("fill-opacity", 0.35).attr("stroke", "none");
    plot.append("path").datum(s.data)
      .attr("d", d3.line().x(d => x(toDate(d[0]))).y(d => y(d[1])))
      .attr("fill", "none").attr("stroke", s.color).attr("stroke-width", 1.5).attr("stroke-linejoin","round");
  });
  (p.lines || []).forEach(s => {
    plot.append("path").datum(s.data)
      .attr("d", d3.line().x(d => x(toDate(d[0]))).y(d => y(d[1])))
      .attr("fill", "none").attr("stroke", s.color).attr("stroke-width", 1.5).attr("stroke-linejoin","round");
  });

  // frame
  g.append("rect").attr("x", X0).attr("y", top).attr("width", X1 - X0).attr("height", PH)
    .attr("fill", "none").attr("stroke", "#1a1a1a").attr("stroke-width", 1.5);

  // ticks inside
  const yAxisL = d3.axisLeft(y).tickValues(p.ticks).tickSize(-5).tickPadding(8).tickFormat(d3.format(p.fmt));
  const ga = g.append("g").attr("transform", `translate(${X0},0)`).call(yAxisL);
  ga.select(".domain").remove();
  ga.selectAll("text").attr("font-size", 21).attr("fill", "#111").attr("font-family", "DejaVu Sans");
  ga.selectAll("line").attr("stroke", "#1a1a1a");
  const gr = g.append("g").attr("transform", `translate(${X1},0)`).call(d3.axisRight(y).tickValues(p.ticks).tickSize(-5).tickFormat(""));
  gr.select(".domain").remove(); gr.selectAll("line").attr("stroke","#1a1a1a");
  const gt = g.append("g").attr("transform", `translate(0,${top})`).call(d3.axisTop(x).tickValues(monthStarts).tickSize(-5).tickFormat(""));
  gt.select(".domain").remove(); gt.selectAll("line").attr("stroke","#1a1a1a");
  const gb = g.append("g").attr("transform", `translate(0,${bottom})`).call(d3.axisBottom(x).tickValues(monthStarts).tickSize(-5).tickPadding(12)
      .tickFormat(i === panels.length - 1 ? ((d, k) => monthLabels[k]) : ""));
  gb.select(".domain").remove(); gb.selectAll("line").attr("stroke","#1a1a1a");
  gb.selectAll("text").attr("font-size", 21).attr("fill", "#111").attr("font-family", "DejaVu Sans");

  // y label
  const lab = g.append("text").attr("transform", `translate(31,${top + PH/2}) rotate(-90)`)
    .attr("text-anchor", "middle").attr("font-size", 11.5).attr("fill", "#333");
  lab.append("tspan").attr("font-style","italic").attr("font-size", 9).text("δ");
  lab.append("tspan").attr("font-size", 7).attr("dy", -4).text("13");
  lab.append("tspan").attr("dy", 4).text("C-");
  lab.append("tspan").attr("font-style","italic").text("CH");
  lab.append("tspan").attr("font-size", 7).attr("font-style","italic").attr("dy", 2.5).text("4");
  lab.append("tspan").attr("dy", -2.5).text("(‰)");

  // legend
  const items = (p.lines || []).concat(p.bands || []);
  const lg = g.append("g");
  const rowH = 19.5, boxH = 23 + (items.length - 1) * rowH;
  const tmp = lg.append("g");
  let maxW = 0;
  items.forEach(s => {
    const t = tmp.append("text").attr("font-size", 13).text(s.name);
    maxW = Math.max(maxW, t.node().getComputedTextLength());
  });
  tmp.remove();
  const boxW = 7 + 22 + 11 + maxW + 6;
  const bx = p.legend.side === "right" ? 1200 - boxW : 122;
  const by = p.legend.top === "top" ? top + 6 : p.legend.top === "bottom" ? bottom - 6 - boxH : p.legend.top;
  lg.append("rect").attr("x", bx).attr("y", by).attr("width", boxW).attr("height", boxH)
    .attr("fill", "#fff").attr("fill-opacity", 0.75).attr("stroke", "#777").attr("stroke-width", 1);
  items.forEach((s, k) => {
    const cy = by + 11.5 + k * rowH;
    lg.append("line").attr("x1", bx + 7).attr("x2", bx + 29).attr("y1", cy).attr("y2", cy)
      .attr("stroke", s.color).attr("stroke-width", 1.5);
    lg.append("text").attr("x", bx + 40).attr("y", cy + 4.5).attr("font-size", 13).attr("fill", "#111").text(s.name);
  });
});

svg.append("text").attr("x", (X0+X1)/2).attr("y", 1025).attr("text-anchor","middle")
  .attr("font-size", 17).attr("fill","#222").text("Month");
</script>
</body></html>
